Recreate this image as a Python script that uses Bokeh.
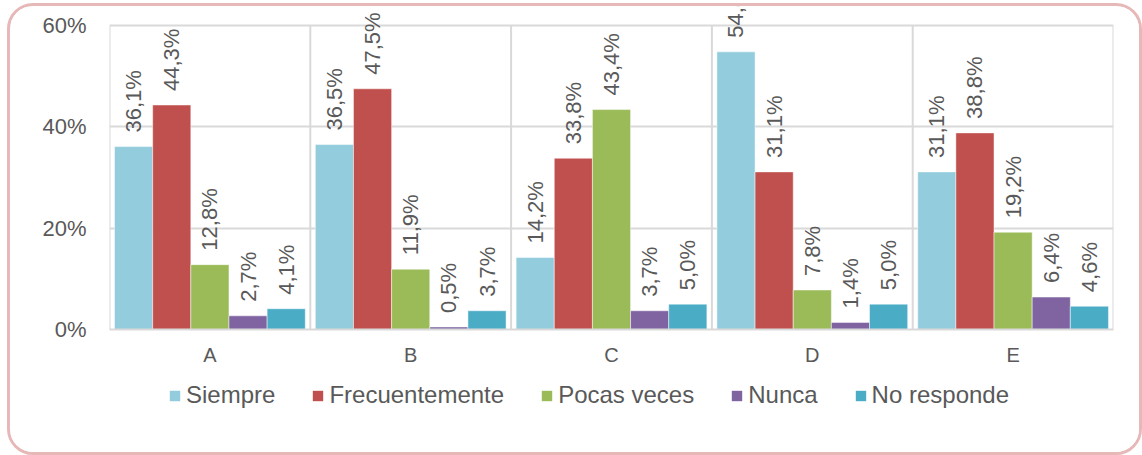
import numpy as np
from bokeh.plotting import figure
from bokeh.layouts import column
from bokeh.models import (ColumnDataSource, Range1d, FixedTicker, NumeralTickFormatter,
                          LabelSet, Legend, LegendItem)
from bokeh.core.properties import value
from bokeh.transform import dodge
from bokeh.embed import file_html
from bokeh.resources import INLINE

categories = ["A", "B", "C", "D", "E"]
series = ["Siempre", "Frecuentemente", "Pocas veces", "Nunca", "No responde"]
siempre = [36.1, 36.5, 14.2, 54.8, 31.1]
frecuentemente = [44.3, 47.5, 33.8, 31.1, 38.8]
pocas_veces = [12.8, 11.9, 43.4, 7.8, 19.2]
nunca = [2.7, 0.5, 3.7, 1.4, 6.4]
no_responde = [4.1, 3.7, 5.0, 5.0, 4.6]
y_ticks = [0, 0.2, 0.4, 0.6]

values = [siempre, frecuentemente, pocas_veces, nunca, no_responde]
colors = ["#93CDDD", "#C0504D", "#9BBB59", "#8064A2", "#4BACC6"]
FONT = "Liberation Sans"
TXT = "#595959"
GRID = "#D9D9D9"
W = 1129

p = figure(width=W, height=364, output_backend="svg", toolbar_location=None,
           x_range=Range1d(-0.5, 4.5), y_range=Range1d(0, 0.6374),
           min_border_left=99, min_border_right=26, min_border_top=0, min_border_bottom=41)
p.outline_line_color = None
p.background_fill_color = "white"
p.border_fill_color = "white"

idx = list(range(len(categories)))
bounds = [i - 0.5 for i in range(len(categories) + 1)]
# group separators (vertical grid) from 0 to 60%
p.segment(x0=bounds, y0=[0] * len(bounds), x1=bounds, y1=[y_ticks[-1]] * len(bounds),
          line_color=GRID, line_width=2)

bw = 0.19
offsets = [-2 * bw, -bw, 0, bw, 2 * bw]
for name, vals, col, off in zip(series, values, colors, offsets):
    src = ColumnDataSource(dict(x=idx, y=[v / 100 for v in vals],
                                lab=[f"{v:.1f}".replace(".", ",") + "%" for v in vals]))
    p.vbar(x=dodge("x", off), top="y", width=bw, bottom=0, source=src,
           fill_color=col, line_color="white", line_alpha=0.6, line_width=0.8)
    p.add_layout(LabelSet(x=dodge("x", off), y="y", text="lab", source=src, angle=np.pi / 2,
                          text_align="left", text_baseline="middle", y_offset=14,
                          text_font=value(FONT), text_font_size=value("22px"),
                          text_color=value(TXT)))

# axes
p.yaxis.ticker = FixedTicker(ticks=y_ticks)
p.yaxis.formatter = NumeralTickFormatter(format="0%")
p.yaxis.axis_line_color = None
p.yaxis.major_tick_line_color = None
p.yaxis.minor_tick_line_color = None
p.yaxis.major_label_text_font = FONT
p.yaxis.major_label_text_font_size = "22px"
p.yaxis.major_label_text_color = TXT
p.yaxis.major_label_standoff = 17

p.xaxis.ticker = FixedTicker(ticks=idx)
p.xaxis.major_label_overrides = {i: c for i, c in enumerate(categories)}
p.xaxis.axis_line_color = GRID
p.xaxis.axis_line_width = 2
p.xaxis.major_tick_line_color = None
p.xaxis.minor_tick_line_color = None
p.xaxis.major_label_text_font = FONT
p.xaxis.major_label_text_font_size = "20px"
p.xaxis.major_label_text_color = TXT
p.xaxis.major_label_standoff = 8

p.ygrid.ticker = FixedTicker(ticks=y_ticks)
p.ygrid.grid_line_color = GRID
p.ygrid.grid_line_width = 2
p.xgrid.grid_line_color = None

# legend figure (legend-only panel; its swatch renderers sit outside the visible range)
lf = figure(width=W, height=82, output_backend="svg", toolbar_location=None,
            x_range=Range1d(0, 1), y_range=Range1d(0, 1),
            x_axis_location=None, y_axis_location=None,
            min_border_left=0, min_border_right=0, min_border_top=0, min_border_bottom=0)
lf.outline_line_color = None
lf.grid.grid_line_color = None
lf.border_fill_color = "white"
items = []
for name, col in zip(series, colors):
    r = lf.vbar(x=[-10], top=[0], width=0.1, fill_color=col, line_color=None)
    items.append(LegendItem(label=name, renderers=[r]))
legend = Legend(items=items, orientation="horizontal", location=(59, 43),
                glyph_width=13, glyph_height=13, label_standoff=5, spacing=36,
                padding=0, margin=0, border_line_color=None, background_fill_alpha=0,
                label_text_font=FONT, label_text_font_size="24px", label_text_color=TXT)
lf.add_layout(legend, "center")

layout = column(p, lf, styles={"border": "3px solid #E6B9B8", "border-radius": "26px",
                               "margin": "3px 0 0 7px", "background": "white",
                               "overflow": "hidden"})

open("out.html", "w").write(file_html(layout, INLINE))
